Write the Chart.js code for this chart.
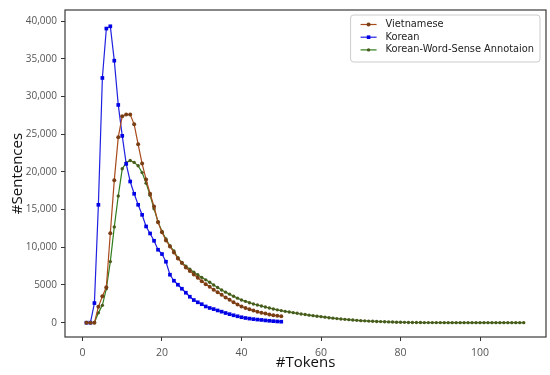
<!DOCTYPE html>
<html>
<head>
<meta charset="utf-8">
<script src="https://cdn.jsdelivr.net/npm/chart.js@4.4.0/dist/chart.umd.min.js"></script>
<style>
html, body { margin: 0; padding: 0; background: #fff; }
#wrap { width: 550px; height: 375px; position: relative; }
</style>
</head>
<body>
<div id="wrap"><canvas id="myChart"></canvas></div>
<script>
// sentence counts per sentence length (#tokens), first value is token 1
const vietnamese = [0, 0, 0, 2100, 3500, 4700, 11850, 18900, 24600, 27370,
  27600, 27600, 26300, 23650, 21090, 19000, 17100, 15400, 13300, 12000,
  10900, 10100, 9300, 8500, 7900, 7300, 6850, 6400, 5950, 5500,
  5100, 4750, 4380, 4030, 3700, 3350, 3050, 2700, 2420, 2150,
  1950, 1780, 1600, 1450, 1330, 1200, 1100, 1000, 920, 850];

const korean = [0, 0, 2600, 15630, 32450, 39000, 39300, 34740, 28870, 24770,
  21060, 18720, 17090, 15630, 14300, 12760, 11830, 10860, 9670, 9100,
  8080, 6360, 5560, 5030, 4500, 3970, 3440, 3000, 2700, 2450,
  2150, 1950, 1800, 1620, 1460, 1280, 1130, 980, 850, 720,
  620, 540, 470, 410, 360, 300, 250, 200, 160, 130];

const koreanWSA = [0, 0, 0, 1300, 2300, 4500, 8100, 12700, 16800, 20400,
  21200, 21500, 21250, 20800, 19900, 18500, 16900, 15100, 13400, 12100,
  11100, 10200, 9500, 8600, 8000, 7500, 7100, 6700, 6350, 6000,
  5680, 5350, 5000, 4660, 4340, 4050, 3780, 3500, 3250, 3010,
  2830, 2650, 2480, 2340, 2220, 2080, 1950, 1820, 1700, 1600,
  1500, 1420, 1330, 1240, 1150, 1080, 1000, 930, 860, 800,
  730, 660, 600, 540, 490, 440, 400, 350, 310, 270,
  240, 210, 190, 160, 140, 120, 100, 80, 65, 50,
  40, 32, 26, 20, 16, 12, 10, 9, 8, 7,
  6, 6, 5, 5, 5, 4, 4, 4, 3, 3,
  3, 3, 2, 2, 2, 2, 2, 1, 1, 1, 1];

const xTicks = [0, 20, 40, 60, 80, 100];
const yTicks = [0, 5000, 10000, 15000, 20000, 25000, 30000, 35000, 40000];

const toPoints = arr => arr.map((v, i) => ({x: i + 1, y: v}));

const frameAndLegend = {
  id: 'frameAndLegend',
  afterDraw(chart) {
    const ctx = chart.ctx;
    const a = chart.chartArea;
    ctx.save();
    ctx.strokeStyle = '#3a3a3a';
    ctx.lineWidth = 1.2;
    ctx.strokeRect(a.left, a.top, a.right - a.left, a.bottom - a.top);

    // legend box in the upper right of the plot
    ctx.font = '9.8px "DejaVu Sans"';
    const sets = chart.data.datasets;
    let tw = 0;
    sets.forEach(d => { tw = Math.max(tw, ctx.measureText(d.label).width); });
    const right = a.right - 6;
    const top = a.top + 5;
    const left = right - (35 + tw + 6);
    const h = 47;
    ctx.fillStyle = 'rgba(255,255,255,0.85)';
    ctx.strokeStyle = '#cccccc';
    ctx.lineWidth = 1;
    ctx.beginPath();
    ctx.roundRect(left, top, right - left, h, 3);
    ctx.fill();
    ctx.stroke();
    sets.forEach((d, i) => {
      const y = top + 9.5 + i * 12.7;
      ctx.strokeStyle = d.borderColor;
      ctx.lineWidth = 1.2;
      ctx.beginPath();
      ctx.moveTo(left + 10, y);
      ctx.lineTo(left + 26, y);
      ctx.stroke();
      ctx.fillStyle = d.pointBackgroundColor;
      if (d.pointStyle === 'rect') {
        ctx.fillRect(left + 16.2, y - 1.8, 3.6, 3.6);
      } else {
        ctx.beginPath();
        ctx.arc(left + 18, y, d.pointRadius, 0, Math.PI * 2);
        ctx.fill();
      }
      ctx.fillStyle = '#222';
      ctx.textBaseline = 'middle';
      ctx.fillText(d.label, left + 35, y);
    });
    ctx.restore();
  }
};

new Chart(document.getElementById('myChart'), {
  type: 'line',
  data: {
    datasets: [
      {
        label: 'Vietnamese',
        data: toPoints(vietnamese),
        borderColor: '#a84a1c',
        pointBackgroundColor: '#7a3e14',
        pointBorderWidth: 0,
        pointRadius: 2,
        borderWidth: 1.2,
        pointStyle: 'circle'
      },
      {
        label: 'Korean',
        data: toPoints(korean),
        borderColor: '#2020e0',
        pointBackgroundColor: '#0000e6',
        pointBorderWidth: 0,
        pointRadius: 2.6,
        borderWidth: 1.2,
        pointStyle: 'rect'
      },
      {
        label: 'Korean-Word-Sense Annotaion',
        data: toPoints(koreanWSA),
        borderColor: '#2f7d1c',
        pointBackgroundColor: '#4a5a1c',
        pointBorderWidth: 0,
        pointRadius: 1.7,
        borderWidth: 1.2,
        pointStyle: 'circle'
      }
    ]
  },
  options: {
    responsive: true,
    maintainAspectRatio: false,
    animation: false,
    layout: { padding: { left: 0, right: 4, top: 10, bottom: 0 } },
    plugins: {
      legend: { display: false },
      tooltip: { enabled: false }
    },
    scales: {
      x: {
        type: 'linear',
        min: -4.4,
        max: 116.6,
        afterBuildTicks: s => { s.ticks = xTicks.map(v => ({value: v})); },
        afterFit: s => { s.height = 38; },
        grid: { display: true, drawOnChartArea: false, drawTicks: true, tickLength: 4, color: '#333' },
        border: { display: false },
        ticks: { color: '#555', font: { family: 'Open Sans', size: 10.5 }, padding: 6, maxRotation: 0 },
        title: { display: true, text: '#Tokens', color: '#111', font: { family: 'Open Sans', size: 15 }, padding: { top: 0, bottom: 3 } }
      },
      y: {
        type: 'linear',
        min: -1900,
        max: 41460,
        afterBuildTicks: s => { s.ticks = yTicks.map(v => ({value: v})); },
        afterFit: s => { s.width = 65; },
        grid: { display: true, drawOnChartArea: false, drawTicks: true, tickLength: 4, color: '#333' },
        border: { display: false },
        ticks: {
          color: '#555',
          font: { family: 'Open Sans', size: 10 },
          padding: 4,
          callback: v => v >= 10000 ? v.toLocaleString('en-US') : String(v)
        },
        title: { display: true, text: '#Sentences', color: '#111', font: { family: 'Open Sans', size: 15 }, padding: { top: 9, bottom: 0 } }
      }
    }
  },
  plugins: [frameAndLegend]
});
</script>
</body>
</html>
